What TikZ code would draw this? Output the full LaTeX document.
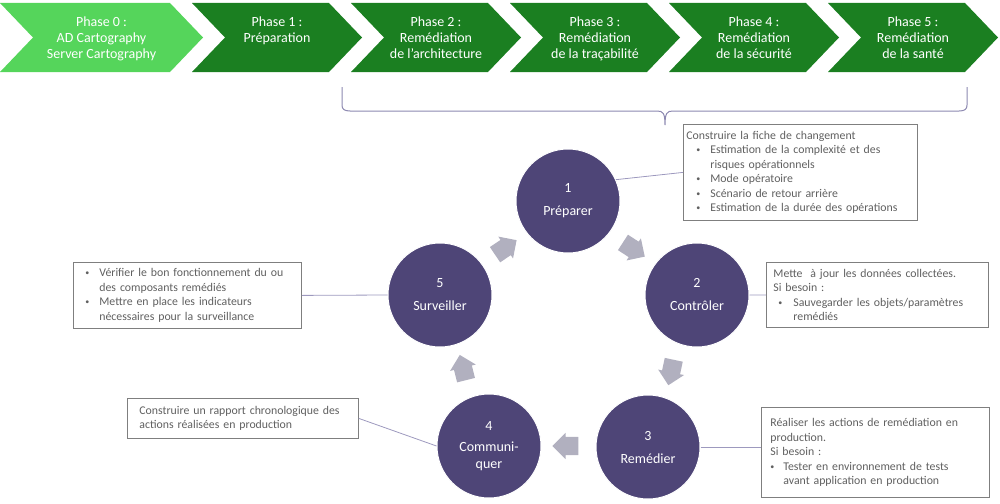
\documentclass[tikz,border=0pt]{standalone}
\usepackage{fontspec}
\setmainfont{Carlito}
\usetikzlibrary{shapes.arrows, positioning}

\definecolor{phaselight}{HTML}{55D55B}
\definecolor{phasedark}{HTML}{1B7F21}
\definecolor{cyclepurple}{HTML}{4E4577}
\definecolor{cyclearrow}{HTML}{B1B0BF}
\definecolor{linkline}{HTML}{9D99BE}
\definecolor{bracecol}{HTML}{8C88B0}
\definecolor{notegray}{HTML}{606060}
\definecolor{noteborder}{HTML}{7F7F7F}

\newcommand{\noteitem}[2]{\hspace*{#1}\makebox[\dimexpr#2-#1\relax][l]{\raisebox{1pt}{\fontsize{8}{8}\selectfont\textbullet}}}
\newcommand{\noteindent}[1]{\hspace*{#1}}

\tikzset{
  phasetext/.style={text=white, align=center, anchor=north, inner sep=0pt, font=\fontsize{14}{16}\selectfont},
  stage/.style={circle, fill=cyclepurple, draw=white, line width=1pt, minimum size=104pt, inner sep=0pt,
    text=white, align=center, font=\fontsize{14}{17}\selectfont},
  flowarrow/.style={single arrow, fill=cyclearrow, minimum height=26pt, inner xsep=0pt, inner ysep=9pt,
    single arrow head extend=4pt},
  note/.style={draw=noteborder, line width=0.8pt, fill=white, text=notegray, anchor=north west,
    align=left, inner ysep=0pt, font=\fontsize{11.8}{14.5}\selectfont},
  link/.style={draw=linkline, line width=0.8pt},
  bracket/.style={draw=bracecol, line width=1pt},
}

\begin{document}
\begin{tikzpicture}[x={(1pt,0pt)}, y={(0pt,-1pt)}]
  \useasboundingbox (0,0) rectangle (1000,503);

  % phases
  \foreach \lx/\w/\col/\nm/\txt in {
      0/203/phaselight/ph0/{Phase 0 :\\AD Cartography\\Server Cartography},
      192/170/phasedark/ph1/{Phase 1 :\\Préparation},
      351/170/phasedark/ph2/{Phase 2 :\\Remédiation\\de l’architecture},
      510/170/phasedark/ph3/{Phase 3 :\\Remédiation\\de la traçabilité},
      669/170/phasedark/ph4/{Phase 4 :\\Remédiation\\de la sécurité},
      828/170/phasedark/ph5/{Phase 5 :\\Remédiation\\de la santé}}
  {
    \fill[\col] (\lx,3) -- ({\lx+\w-33},3) -- ({\lx+\w},37.5) -- ({\lx+\w-33},72)
      -- (\lx,72) -- ({\lx+33},37.5) -- cycle;
    \node[phasetext] (\nm) at ({\lx+\w/2},17) {\txt};
  }

  % brace under phases 2 to 5
  \draw[bracket] (342,87) -- (342,105) .. controls (342,109) and (344,111) .. (350,111)
    -- (657,111) .. controls (663,111) and (665,113) .. (665,125)
    .. controls (665,113) and (667,111) .. (673,111)
    -- (959,111) .. controls (965,111) and (967,109) .. (967,105) -- (967,87);

  % cycle
  \node[stage] (c1) at (568,201) {1\\[6pt]Préparer};
  \node[stage] (c2) at (697,295) {2\\[6pt]Contrôler};
  \node[stage] (c3) at (648,447) {3\\[6pt]Remédier};
  \node[stage] (c4) at (489,446) {4\\[4pt]Communi-\\quer};
  \node[stage] (c5) at (440,295) {5\\[6pt]Surveiller};

  \foreach \nm/\px/\py/\ang in {a51/502/250/34, a12/630/247/-33, a23/672/368/-102,
      a34/570/446/180, a45/464/372/104}
    \node[flowarrow, rotate=\ang] (\nm) at (\px,\py) {};

  % notes
  \node[note, text width=228pt, inner xsep=3pt, minimum height=96pt] (n1) at (683,124)
    {Construire la fiche de changement\\
     \noteitem{10pt}{24pt}Estimation de la complexité et des\\
     \noteindent{24pt}risques opérationnels\\
     \noteitem{10pt}{24pt}Mode opératoire\\
     \noteitem{10pt}{24pt}Scénario de retour arrière\\
     \noteitem{10pt}{24pt}Estimation de la durée des opérations};
  \node[note, text width=208pt, inner xsep=7pt, minimum height=65pt] (n2) at (766,262)
    {Mette\ \ à jour les données collectées.\\
     Si besoin~:\\
     \noteitem{5pt}{20pt}Sauvegarder les objets/paramètres\\
     \noteindent{20pt}remédiés};
  \node[note, text width=210pt, inner xsep=9pt, minimum height=90pt] (n3) at (761,407)
    {Réaliser les actions de remédiation en\\
     production.\\
     Si besoin~:\\
     \noteitem{0pt}{13pt}Tester en environnement de tests\\
     \noteindent{13pt}avant application en production};
  \node[note, text width=207pt, inner xsep=12pt, minimum height=40pt] (n4) at (127,398)
    {Construire un rapport chronologique des\\
     actions réalisées en production};
  \node[note, text width=224pt, inner xsep=2pt, minimum height=66pt] (n5) at (73,262)
    {\noteitem{10pt}{24pt}Vérifier le bon fonctionnement du ou\\
     \noteindent{24pt}des composants remédiés\\
     \noteitem{10pt}{24pt}Mettre en place les indicateurs\\
     \noteindent{24pt}nécessaires pour la surveillance};

  % links
  \draw[link] (c1.24) -- (n1.west);
  \draw[link] (c2.east) -- (n2.west);
  \draw[link] (c3.east) -- (c3.east -| n3.west);
  \draw[link] (n4.east) -- (c4.west);
  \draw[link] (n5.east) -- (c5.west);
\end{tikzpicture}
\end{document}
